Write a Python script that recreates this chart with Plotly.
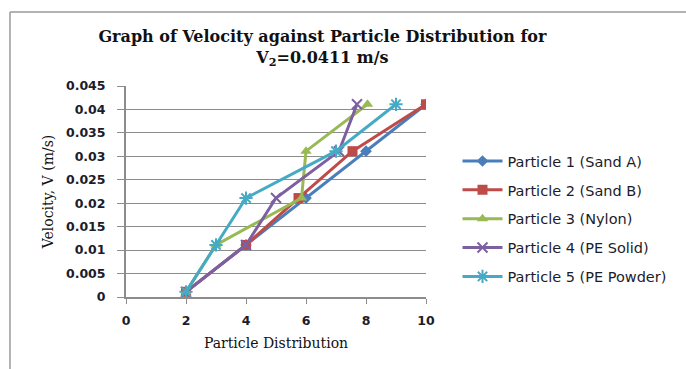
import plotly.graph_objects as go

names = ["Particle 1 (Sand A)", "Particle 2 (Sand B)", "Particle 3 (Nylon)",
         "Particle 4 (PE Solid)", "Particle 5 (PE Powder)"]
velocity = [0.0011, 0.0111, 0.0211, 0.0311, 0.0411]
x_sand_a = [2, 4, 6, 8, 10]
x_sand_b = [2, 4, 5.75, 7.55, 10]
x_nylon = [2, 3, 5.85, 6.0, 8.05]
x_pe_solid = [2, 4, 5.0, 7.1, 7.7]
x_pe_powder = [2, 3, 4, 7.0, 9.0]
x_series = [x_sand_a, x_sand_b, x_nylon, x_pe_solid, x_pe_powder]

colors = ["#4A7EBB", "#BE4B48", "#98B954", "#7D60A0", "#46AAC5"]
symbols = ["diamond", "square", "triangle-up", "x-thin-open", "asterisk-open"]
sizes = [9, 10, 10, 10, 11]

y_ticks = [0, 0.005, 0.01, 0.015, 0.02, 0.025, 0.03, 0.035, 0.04, 0.045]
y_ticktext = ["0", "0.005", "0.01", "0.015", "0.02", "0.025", "0.03", "0.035", "0.04", "0.045"]
x_ticks = [0, 2, 4, 6, 8, 10]

fig = go.Figure()
for i in range(5):
    open_sym = symbols[i].endswith("open")
    fig.add_trace(go.Scatter(
        x=x_series[i], y=velocity, name=names[i], mode="lines+markers",
        legendgroup=f"g{i}",
        line=dict(color=colors[i], width=3),
        marker=dict(symbol=symbols[i], size=sizes[i], color=colors[i],
                    line=dict(color=colors[i], width=2 if open_sym else 0)),
    ))

sans = "DejaVu Sans, Verdana, sans-serif"
serif = "DejaVu Serif, Liberation Serif, serif"
tick_font = dict(family=sans, size=12.5, color="#1c1c2a", weight="bold")

fig.update_layout(
    width=686, height=369,
    margin=dict(l=126, r=260, t=86, b=72),
    paper_bgcolor="white", plot_bgcolor="white",
    title=dict(
        text="<b>Graph of Velocity against Particle Distribution for<br>V<sub>2</sub>=0.0411 m/s</b>",
        font=dict(family=serif, size=16, color="#111111"),
        x=0.47, xanchor="center", y=0.886, yanchor="top",
    ),
    xaxis=dict(
        range=[0, 10], tickvals=x_ticks, showgrid=False, zeroline=False,
        showline=True, linecolor="#8c8c8c", linewidth=2,
        ticks="outside", ticklen=5, tickcolor="#8c8c8c", tickwidth=1,
        tickfont=tick_font, ticklabelstandoff=6,
        title=dict(text="Particle Distribution", font=dict(family=serif, size=14, color="#111111"), standoff=11),
    ),
    yaxis=dict(
        range=[0, 0.045], tickvals=y_ticks, ticktext=y_ticktext,
        showgrid=True, gridcolor="#8c8c8c", gridwidth=1, zeroline=False,
        showline=True, linecolor="#8c8c8c", linewidth=2,
        ticks="outside", ticklen=7, tickcolor="#8c8c8c",
        tickfont=tick_font, ticklabelstandoff=9,
        title=dict(text="Velocity, V (m/s)", font=dict(family=serif, size=14, color="#111111"), standoff=9),
    ),
    legend=dict(
        x=1.105, xanchor="left", y=0.72, yanchor="top",
        font=dict(family=sans, size=14.5, color="#1c1c2a"),
        tracegroupgap=7, itemwidth=40, bgcolor="rgba(0,0,0,0)",
    ),
    shapes=[
        dict(type="line", xref="paper", yref="paper",
             x0=(10 - 126) / 300, x1=(690 - 126) / 300,
             y0=(297 - 12) / 211, y1=(297 - 12) / 211,
             line=dict(color="#9a9a9a", width=1.5)),
        dict(type="line", xref="paper", yref="paper",
             x0=(10 - 126) / 300, x1=(10 - 126) / 300,
             y0=(297 - 12) / 211, y1=(297 - 375) / 211,
             line=dict(color="#9a9a9a", width=1.5)),
    ],
)

fig.write_html("out.html")
